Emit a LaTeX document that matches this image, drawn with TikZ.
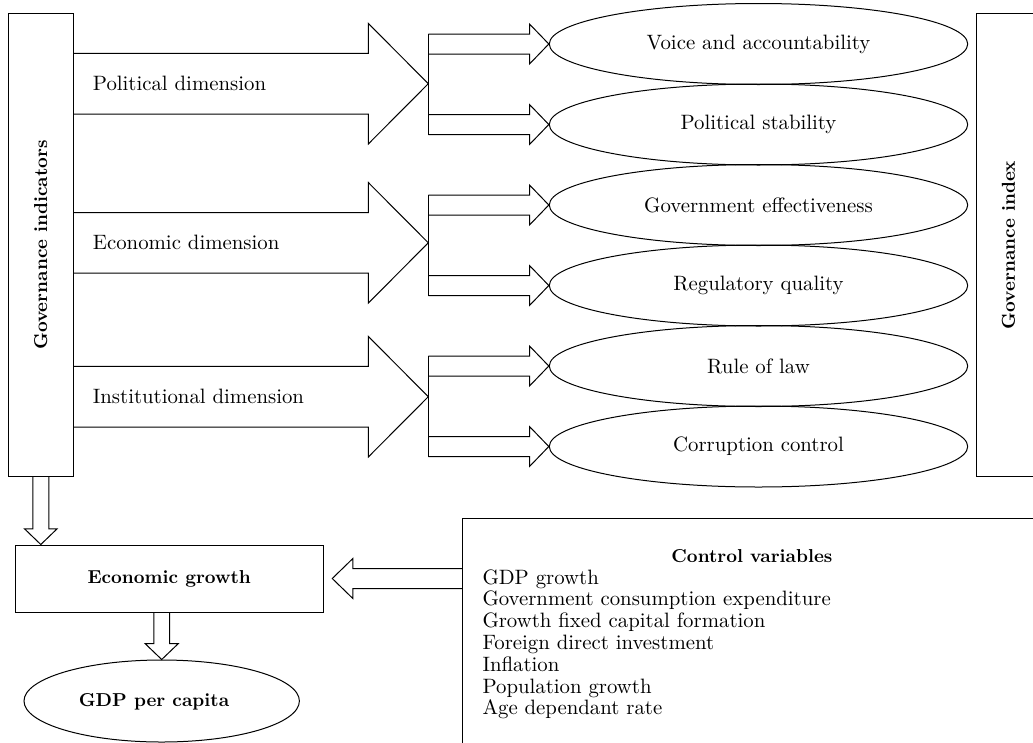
\documentclass[tikz,border=0pt]{standalone}
\usepackage{fontspec}
\setmainfont{lmroman10-regular.otf}[BoldFont=lmroman10-bold.otf]
\usetikzlibrary{shapes.geometric,calc}
\newcommand{\rfont}{\fontsize{20.8}{21.8}\selectfont}
\newcommand{\bfont}{\fontsize{18.7}{21.8}\selectfont\bfseries}
% block arrows: #1 start, #2 tip, #3 shaft half width, #4 head half width, #5 head length
\newcommand{\rarrow}[5]{\draw[blk] let \p1=(#1), \p2=(#2) in
  (\x1,{\y2+#3pt}) -- ({\x2-#5pt},{\y2+#3pt}) -- ({\x2-#5pt},{\y2+#4pt}) -- (\x2,\y2)
  -- ({\x2-#5pt},{\y2-#4pt}) -- ({\x2-#5pt},{\y2-#3pt}) -- (\x1,{\y2-#3pt});}
\newcommand{\larrow}[5]{\draw[blk] let \p1=(#1), \p2=(#2) in
  (\x1,{\y2+#3pt}) -- ({\x2+#5pt},{\y2+#3pt}) -- ({\x2+#5pt},{\y2+#4pt}) -- (\x2,\y2)
  -- ({\x2+#5pt},{\y2-#4pt}) -- ({\x2+#5pt},{\y2-#3pt}) -- (\x1,{\y2-#3pt});}
\newcommand{\darrow}[5]{\draw[blk] let \p1=(#1), \p2=(#2) in
  ({\x2-#3pt},\y1) -- ({\x2-#3pt},{\y2+#5pt}) -- ({\x2-#4pt},{\y2+#5pt}) -- (\x2,\y2)
  -- ({\x2+#4pt},{\y2+#5pt}) -- ({\x2+#3pt},{\y2+#5pt}) -- ({\x2+#3pt},\y1);}
\tikzset{
  box/.style={draw, line width=1pt, rectangle, inner sep=0pt},
  oval/.style={draw, line width=1pt, ellipse, inner sep=0pt, minimum width=418.4pt, minimum height=81pt, font=\rfont},
  blk/.style={draw, line width=1pt, line join=miter},
  lbl/.style={inner sep=0pt, font=\rfont}
}
\begin{document}
\begin{tikzpicture}[x=1pt,y=-1pt]
\useasboundingbox (0,0) rectangle (1033,742);

% left and right tall boxes
\node[box, minimum width=65pt, minimum height=463.4pt, font=\bfont] (gi) at (40.8,245) {\rotatebox{90}{Governance indicators}};
\node[box, minimum width=65pt, minimum height=463.4pt, font=\bfont] (gx) at (1008.5,245) {\rotatebox{90}{Governance index}};

% ellipses
\node[oval] (e1) at (758.5,44) {Voice and accountability};
\node[oval] (e2) at (758.5,124.5) {Political stability};
\node[oval] (e3) at (758.5,205) {Government effectiveness};
\node[oval] (e4) at (758.5,285.5) {Regulatory quality};
\node[oval] (e5) at (758.5,366) {Rule of law};
\node[oval] (e6) at (758.5,446.5) {Corruption control};

% big arrow tips
\coordinate (t1) at (428.3,83.7);
\coordinate (t2) at (428.3,242.8);
\coordinate (t3) at (428.3,396.7);

\rarrow{gi.east |- t1}{t1}{30.3}{60.3}{60}
\rarrow{gi.east |- t2}{t2}{30.3}{60.3}{60}
\rarrow{gi.east |- t3}{t3}{30.3}{60.3}{60}

\node[lbl, anchor=west] (pd) at (92.7,83.7) {Political dimension};
\node[lbl, anchor=west] (ed) at (92.7,242.8) {Economic dimension};
\node[lbl, anchor=west] (id) at (92.7,396.7) {Institutional dimension};

% small arrows to ellipses
\rarrow{t1 |- e1}{e1.west}{10}{20}{19.3}
\rarrow{t1 |- e2}{e2.west}{10}{20}{19.3}
\rarrow{t2 |- e3}{e3.west}{10}{20}{19.3}
\rarrow{t2 |- e4}{e4.west}{10}{20}{19.3}
\rarrow{t3 |- e5}{e5.west}{10}{20}{19.3}
\rarrow{t3 |- e6}{e6.west}{10}{20}{19.3}
\draw[blk] ($(t1 |- e1)+(0,-10)$) -- ($(t1 |- e2)+(0,10)$);
\draw[blk] ($(t2 |- e3)+(0,-10)$) -- ($(t2 |- e4)+(0,10)$);
\draw[blk] ($(t3 |- e5)+(0,-10)$) -- ($(t3 |- e6)+(0,10)$);

% lower part
\node[box, minimum width=308.3pt, minimum height=67pt, font=\bfont] (eg) at (169.2,578.5) {Economic growth};
\node[draw, line width=1pt, ellipse, inner sep=0pt, minimum width=275.4pt, minimum height=82pt] (gdp) at (161.7,701) {};
\node[inner sep=0pt, font=\bfont] (gdptxt) at (154,702) {GDP per capita};
\node[box, minimum width=578.8pt, minimum height=300pt, anchor=north west] (cv) at (462.3,518.3) {};
\node[anchor=base west, inner sep=0pt] (cvt) at ($(cv.north west)+(20,44)$) {%
\begin{minipage}[t]{538.8pt}\rfont
{\centering\bfont Control variables\par}
GDP growth\\
Government consumption expenditure\\
Growth fixed capital formation\\
Foreign direct investment\\
Inflation\\
Population growth\\
Age dependant rate
\end{minipage}};

\darrow{gi.south}{gi.south |- eg.north}{8}{16.3}{15.7}
\darrow{gdp.north |- eg.south}{gdp.north}{7.8}{16.7}{16}
\coordinate (lt) at ($(eg.east)+(8.4,0)$);
\larrow{cv.west |- lt}{lt}{10}{20}{20.6}
\end{tikzpicture}
\end{document}
